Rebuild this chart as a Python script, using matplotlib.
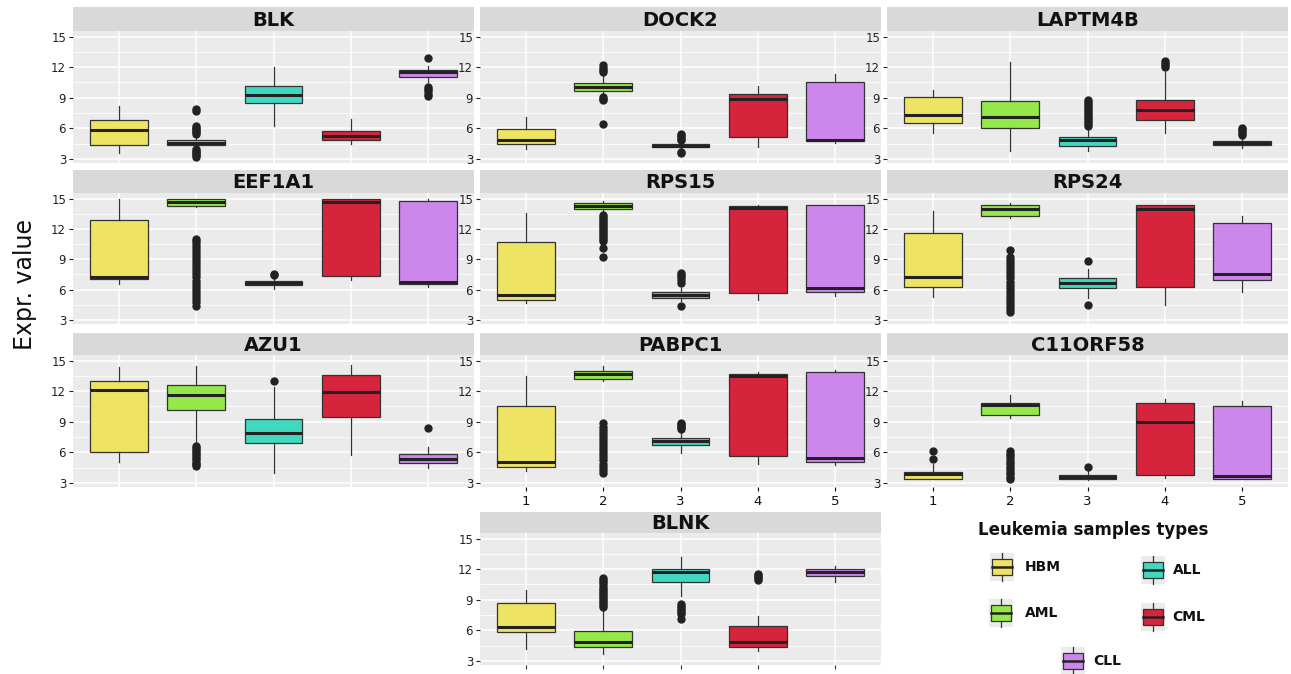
import matplotlib
matplotlib.use("Agg")
import matplotlib.pyplot as plt
from matplotlib.patches import Rectangle

# ---------------- data ----------------
groups = ["HBM", "AML", "ALL", "CML", "CLL"]
group_colors = ["#EFE363", "#95E84A", "#40D9C0", "#D6243C", "#CD87EC"]
x_ticklabels = ["1", "2", "3", "4", "5"]
genes = ["BLK", "DOCK2", "LAPTM4B", "EEF1A1", "RPS15", "RPS24",
         "AZU1", "PABPC1", "C11ORF58", "BLNK"]

# per group: (lower whisker, Q1, median, Q3, upper whisker)
BLK_box = [(3.6, 4.34, 5.87, 6.85, 8.15), (4.1, 4.37, 4.6, 4.83, 5.1),
           (6.23, 8.48, 9.3, 10.17, 12.06), (4.43, 4.83, 5.22, 5.74, 6.95),
           (10.5, 11.0, 11.5, 11.74, 12.16)]
BLK_out = [[], [3.2, 3.35, 3.5, 3.65, 3.8, 3.95, 5.45, 5.6, 5.75, 5.9, 6.05, 6.2, 7.75, 7.9],
           [], [], [12.9, 9.15, 9.4, 9.65, 9.9, 10.1]]

DOCK2_box = [(4.0, 4.5, 4.83, 5.9, 7.1), (9.2, 9.65, 10.1, 10.4, 11.1),
             (3.9, 4.2, 4.3, 4.45, 4.75), (4.17, 5.15, 8.84, 9.4, 10.2),
             (4.56, 4.76, 4.9, 10.5, 11.35)]
DOCK2_out = [[], [11.5, 11.7, 11.95, 12.2, 8.75, 8.9, 9.05, 6.4],
             [4.85, 5.0, 5.15, 5.3, 5.45, 3.55, 3.7], [], []]

LAPTM4B_box = [(5.58, 6.49, 7.3, 9.03, 9.78), (3.75, 6.07, 7.1, 8.67, 12.5),
               (3.75, 4.3, 4.83, 5.12, 6.1), (5.54, 6.85, 7.8, 8.8, 11.57),
               (4.1, 4.34, 4.57, 4.76, 5.0)]
LAPTM4B_out = [[], [], [6.2, 6.4, 6.6, 6.8, 7.0, 7.2, 7.4, 7.6, 7.8, 8.0, 8.2, 8.4, 8.6, 8.8],
               [12.0, 12.2, 12.4, 12.6], [5.3, 5.5, 5.7, 5.9, 6.05]]

EEF1A1_box = [(6.57, 7.03, 7.26, 12.84, 15.0), (14.2, 14.3, 14.67, 15.0, 15.0),
              (6.1, 6.47, 6.67, 6.87, 7.03), (6.97, 7.36, 14.67, 15.0, 15.0),
              (6.3, 6.54, 6.74, 14.8, 15.0)]
EEF1A1_out = [[], [4.4, 4.8, 5.1, 5.4, 5.7, 6.0, 6.3, 6.6, 6.9, 7.2, 7.5, 7.8, 8.1, 8.4,
                   8.7, 9.0, 9.3, 9.6, 9.9, 10.2, 10.5, 10.8, 11.0],
              [7.4, 7.55], [], []]

RPS15_box = [(4.67, 5.0, 5.49, 10.7, 13.6), (13.8, 13.98, 14.25, 14.54, 14.77),
             (4.9, 5.13, 5.46, 5.72, 6.2), (4.93, 5.62, 14.1, 14.25, 14.38),
             (5.39, 5.79, 6.18, 14.34, 14.34)]
RPS15_out = [[], [10.8, 11.0, 11.2, 11.4, 11.6, 11.8, 12.0, 12.2, 12.4, 12.6, 12.8, 13.0,
                  13.2, 13.4, 10.15, 9.26],
             [6.7, 6.95, 7.2, 7.45, 7.65, 4.34], [], []]

RPS24_box = [(5.3, 6.21, 7.23, 11.62, 13.75), (13.1, 13.26, 14.0, 14.34, 14.57),
             (5.2, 6.11, 6.64, 7.13, 8.0), (4.5, 6.21, 14.0, 14.34, 14.34),
             (5.72, 6.97, 7.52, 12.6, 13.26)]
RPS24_out = [[], [9.9, 3.8, 4.1, 4.4, 4.7, 5.0, 5.3, 5.6, 5.9, 6.2, 6.5, 6.8, 7.1, 7.4,
                  7.7, 8.0, 8.3, 8.6, 8.9, 9.2],
             [8.8, 4.5], [], []]

AZU1_box = [(5.07, 6.05, 12.1, 13.0, 14.34), (6.8, 10.2, 11.66, 12.6, 14.5),
            (4.0, 6.9, 7.89, 9.26, 12.4), (5.72, 9.46, 11.89, 13.6, 14.6),
            (4.5, 4.93, 5.39, 5.79, 6.48)]
AZU1_out = [[], [4.67, 4.85, 5.0, 5.2, 5.4, 5.6, 5.8, 6.0, 6.2, 6.4, 6.64],
            [13.0], [], [8.38]]

PABPC1_box = [(4.18, 4.57, 5.07, 10.54, 13.46), (13.0, 13.16, 13.69, 14.0, 14.5),
              (5.98, 6.74, 7.13, 7.39, 7.95), (4.9, 5.66, 13.52, 13.7, 13.9),
              (4.77, 5.1, 5.46, 13.85, 14.08)]
PABPC1_out = [[], [4.0, 4.3, 4.6, 4.9, 5.2, 5.5, 5.8, 6.1, 6.4, 6.7, 7.0, 7.3, 7.6, 7.9,
                   8.2, 8.5, 8.9],
              [8.3, 8.45, 8.6, 8.75, 8.9], [], []]

C11ORF58_box = [(3.36, 3.43, 3.85, 4.11, 4.84), (9.36, 9.69, 10.6, 10.84, 11.66),
                (3.26, 3.43, 3.6, 3.79, 4.18), (3.46, 3.79, 8.97, 10.84, 11.23),
                (3.36, 3.36, 3.69, 10.54, 11.07)]
C11ORF58_out = [[5.33, 6.1], [3.36, 3.6, 3.85, 4.1, 4.35, 4.6, 4.85, 5.1, 5.35, 5.6, 5.85, 6.15],
                [4.57], [], []]

BLNK_box = [(4.15, 5.79, 6.34, 8.67, 9.98), (3.69, 4.41, 4.9, 5.89, 8.2),
            (9.33, 10.74, 11.69, 12.05, 13.2), (3.98, 4.34, 4.84, 6.44, 7.43),
            (10.7, 11.36, 11.72, 12.0, 12.34)]
BLNK_out = [[], [8.3, 8.5, 8.7, 8.9, 9.1, 9.3, 9.5, 9.7, 9.9, 10.1, 10.3, 10.5, 10.7, 10.9, 11.1],
            [7.13, 7.6, 7.8, 8.0, 8.2, 8.4, 8.6], [10.95, 11.1, 11.25, 11.4, 11.55], []]

gene_boxes = [BLK_box, DOCK2_box, LAPTM4B_box, EEF1A1_box, RPS15_box, RPS24_box,
              AZU1_box, PABPC1_box, C11ORF58_box, BLNK_box]
gene_outs = [BLK_out, DOCK2_out, LAPTM4B_out, EEF1A1_out, RPS15_out, RPS24_out,
             AZU1_out, PABPC1_out, C11ORF58_out, BLNK_out]

# ---------------- layout (pixels) ----------------
W, H = 1291, 674
cols = [(73, 474), (480, 881), (887, 1288)]
rows = [(7, 31, 163), (170, 193, 324), (333, 355, 487), (512, 533, 665)]
cells = [(0, 0), (0, 1), (0, 2), (1, 0), (1, 1), (1, 2), (2, 0), (2, 1), (2, 2), (3, 1)]
xlab_panels = {"PABPC1", "C11ORF58"}
xtick_only = {"BLNK"}

fig = plt.figure(figsize=(W / 100, H / 100), dpi=100)
fig.patch.set_facecolor("white")

def frac_rect(x0, x1, y0, y1):
    return [x0 / W, 1 - y1 / H, (x1 - x0) / W, (y1 - y0) / H]

for gi, gene in enumerate(genes):
    r, c = cells[gi]
    x0, x1 = cols[c]
    st, sb, pb = rows[r]
    # strip
    sax = fig.add_axes(frac_rect(x0, x1, st, sb))
    sax.set_facecolor("#D9D9D9")
    sax.set_xticks([]); sax.set_yticks([])
    for s in sax.spines.values():
        s.set_visible(False)
    sax.text(0.5, 0.45, gene, ha="center", va="center", fontsize=14,
             fontweight="bold", color="#111111", transform=sax.transAxes)
    # panel
    ax = fig.add_axes(frac_rect(x0, x1, sb, pb))
    ax.set_facecolor("#EBEBEB")
    for s in ax.spines.values():
        s.set_visible(False)

    stats = []
    for k in range(len(groups)):
        lo, q1, med, q3, hi = gene_boxes[gi][k]
        stats.append(dict(whislo=lo, q1=q1, med=med, q3=q3, whishi=hi,
                          fliers=gene_outs[gi][k]))
    bp = ax.bxp(stats, positions=[1, 2, 3, 4, 5], widths=0.75, patch_artist=True,
                showcaps=False,
                boxprops=dict(edgecolor="#333333", linewidth=0.9),
                medianprops=dict(color="#222222", linewidth=2.2),
                whiskerprops=dict(color="#333333", linewidth=0.9),
                flierprops=dict(marker="o", markerfacecolor="#222222",
                                markeredgecolor="#222222", markersize=5))
    for patch, col in zip(bp["boxes"], group_colors):
        patch.set_facecolor(col)

    ax.set_xlim(0.4, 5.6)
    ax.set_ylim(2.6, 15.55)
    ax.set_yticks([3, 6, 9, 12, 15])
    ax.set_yticks([4.5, 7.5, 10.5, 13.5], minor=True)
    ax.set_xticks([1, 2, 3, 4, 5])
    ax.grid(True, which="major", color="white", linewidth=1.1, zorder=0)
    ax.grid(True, which="minor", axis="y", color="white", linewidth=0.55, zorder=0)
    ax.set_axisbelow(True)
    ax.tick_params(axis="y", which="major", labelsize=8.5, colors="#222222",
                   length=3, width=0.8, pad=2)
    ax.tick_params(axis="y", which="minor", length=0)
    if gene in xlab_panels:
        ax.set_xticklabels(x_ticklabels)
        ax.tick_params(axis="x", labelsize=9.5, colors="#111111", length=3, width=0.8, pad=3)
    elif gene in xtick_only:
        ax.set_xticklabels([])
        ax.tick_params(axis="x", colors="#333333", length=3, width=0.8)
    else:
        ax.set_xticklabels([])
        ax.tick_params(axis="x", length=0)

# y label
fig.text(25 / W, 1 - 285 / H, "Expr. value", rotation=90, ha="center", va="center",
         fontsize=17, color="#111111")

# ---------------- legend ----------------
lax = fig.add_axes([0, 0, 1, 1], zorder=5)
lax.set_xlim(0, W)
lax.set_ylim(H, 0)
lax.axis("off")
lax.patch.set_alpha(0)
lax.text(1093, 530, "Leukemia samples types", ha="center", va="center",
         fontsize=12, fontweight="bold", color="#111111")
key_pos = [(1002, 567), (1001, 613), (1153, 570), (1153, 617), (1073, 661)]
text_pos = [(1025, 567), (1025, 613), (1173, 570), (1172, 617), (1093, 661)]
for (kx, ky), (tx, ty), name, col in zip(key_pos, text_pos, groups, group_colors):
    lax.add_patch(Rectangle((kx - 12, ky - 14), 24, 28, facecolor="#EBEBEB",
                            edgecolor="none"))
    lax.plot([kx, kx], [ky - 14, ky - 8], color="#333333", lw=0.9)
    lax.plot([kx, kx], [ky + 8, ky + 14], color="#333333", lw=0.9)
    lax.add_patch(Rectangle((kx - 10, ky - 8), 20, 16, facecolor=col,
                            edgecolor="#333333", linewidth=0.9))
    lax.plot([kx - 10, kx + 10], [ky, ky], color="#222222", lw=1.8)
    lax.text(tx, ty, name, ha="left", va="center", fontsize=10, fontweight="bold",
             color="#111111")

fig.savefig("out.png", dpi=100)
